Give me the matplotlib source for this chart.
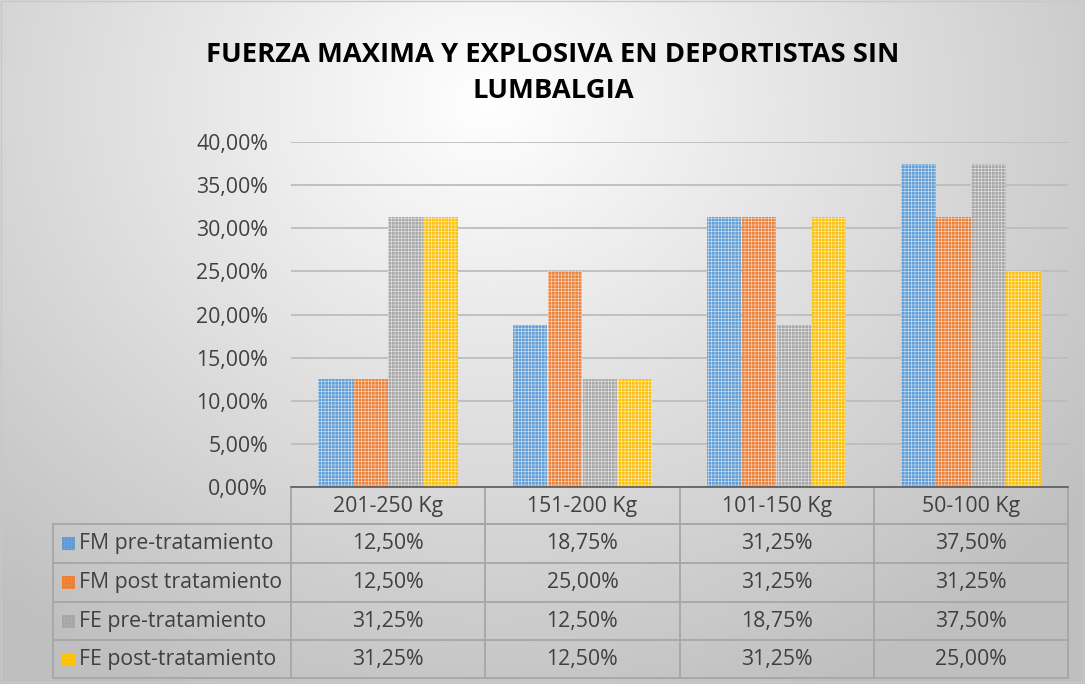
import numpy as np
import matplotlib
matplotlib.use('Agg')
from matplotlib import pyplot as plt
from matplotlib.patches import Rectangle

# data
categories = ['201-250 Kg', '151-200 Kg', '101-150 Kg', '50-100 Kg']
series_names = ['FM pre-tratamiento', 'FM post tratamiento', 'FE pre-tratamiento', 'FE post-tratamiento']
fm_pre = [0.125, 0.1875, 0.3125, 0.375]
fm_post = [0.125, 0.25, 0.3125, 0.3125]
fe_pre = [0.3125, 0.125, 0.1875, 0.375]
fe_post = [0.3125, 0.125, 0.3125, 0.25]
colors = ['#5b9bd5', '#ed7d31', '#a5a5a5', '#ffc000']
title = 'FUERZA MAXIMA Y EXPLOSIVA EN DEPORTISTAS SIN\nLUMBALGIA'

series = [fm_pre, fm_post, fe_pre, fe_post]

plt.rcParams['font.family'] = ['Open Sans', 'DejaVu Sans']
W, H = 1085, 684
fig = plt.figure(figsize=(W / 100, H / 100), dpi=100)

def fx(px):
    return px / W

def fy(py):
    return 1 - py / H

# radial gradient background
bg = fig.add_axes([0, 0, 1, 1], zorder=-10)
yy, xx = np.mgrid[0:H, 0:W]
r = np.sqrt(((xx - W * 0.45) / (W * 0.7)) ** 2 + ((yy - H * 0.15) / (H * 0.95)) ** 2)
shade = np.clip(1.0 - 0.25 * r, 0.75, 1.0)
bg.imshow(np.dstack([shade] * 3), extent=[0, W, H, 0], aspect='auto')
bg.add_patch(Rectangle((1, 1), W - 3, H - 3, fill=False, edgecolor='#c8c8c8', lw=1))
bg.set_xlim(0, W)
bg.set_ylim(H, 0)
bg.axis('off')

fs = 15.3
txt = '#404040'

# bar chart area
x0, x1, ytop, ybot = 291, 1068, 142, 487
ax = fig.add_axes([fx(x0), fy(ybot), fx(x1) - fx(x0), fy(ytop) - fy(ybot)])
ax.patch.set_alpha(0)
n = len(categories)
idx = np.arange(n)
bw = 0.18
plt.rcParams['hatch.linewidth'] = 0.3
for i, (vals, c) in enumerate(zip(series, colors)):
    ax.bar(idx + (i - 1.5) * bw, vals, bw * 0.985, color=c, alpha=0.93,
           hatch='+++++', edgecolor=(1, 1, 1, 0.15), linewidth=0, zorder=3)
ax.set_xlim(-0.5, n - 0.5)
ax.set_ylim(0, 0.40)
yt = np.arange(0, 0.401, 0.05)
ax.set_yticks(yt)
ax.set_yticklabels([('%.2f%%' % (v * 100)).replace('.', ',') for v in yt],
                   fontsize=fs, color=txt)
ax.tick_params(axis='y', length=0, pad=16.5)
ax.set_xticks([])
ax.grid(axis='y', color='#bdbdbd', lw=1.3, zorder=1)
for s in ['top', 'right', 'left']:
    ax.spines[s].set_visible(False)
ax.spines['bottom'].set_color('#595959')
ax.spines['bottom'].set_linewidth(1.2)
ax.spines['bottom'].set_zorder(4)

fig.text(fx(553), fy(73), title, ha='center', va='center', fontsize=19.7,
         fontweight='bold', color='#000000', linespacing=1.5)

# data table under the axis
tab = fig.add_axes([0, 0, 1, 1], zorder=5)
tab.set_xlim(0, W)
tab.set_ylim(H, 0)
tab.axis('off')
cols = [x0 + (x1 - x0) * k / n for k in range(n + 1)]
rows = [524, 563, 602, 640, 678]
lc = '#a6a6a6'
left = 53
for cx in cols:
    tab.plot([cx, cx], [489, rows[-1]], color=lc, lw=1.3)
tab.plot([x0, x1], [rows[0], rows[0]], color=lc, lw=1.3)
tab.plot([left, left], [rows[0], rows[-1]], color=lc, lw=1.3)
for ry in rows:
    tab.plot([left, x1], [ry, ry], color=lc, lw=1.3)
for k, cat in enumerate(categories):
    tab.text((cols[k] + cols[k + 1]) / 2, (489 + rows[0]) / 2, cat,
             ha='center', va='center', fontsize=fs, color=txt)
for j, (name, vals, c) in enumerate(zip(series_names, series, colors)):
    cy = (rows[j] + rows[j + 1]) / 2
    tab.add_patch(Rectangle((62, cy - 6.5), 13, 13, facecolor=c,
                            hatch='+++++', edgecolor=(1, 1, 1, 0.15), lw=0))
    tab.text(79, cy, name, ha='left', va='center', fontsize=fs, color=txt)
    for k, v in enumerate(vals):
        tab.text((cols[k] + cols[k + 1]) / 2, cy,
                 ('%.2f%%' % (v * 100)).replace('.', ','),
                 ha='center', va='center', fontsize=fs, color=txt)

fig.savefig('out.png', dpi=100)
